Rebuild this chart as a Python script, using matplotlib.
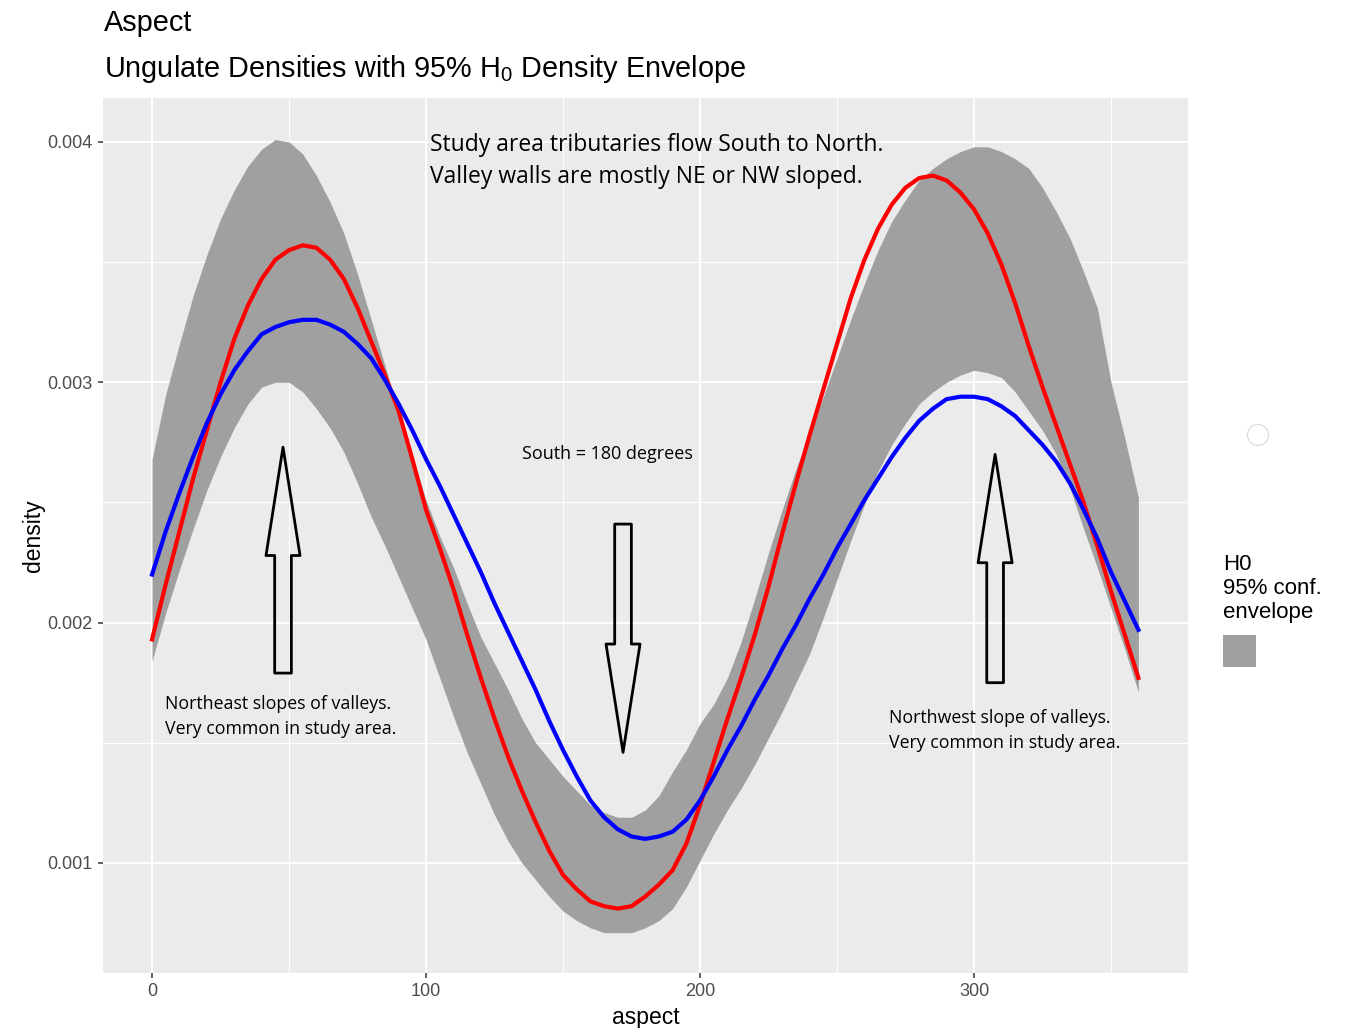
import matplotlib
matplotlib.use("Agg")
import matplotlib.pyplot as plt
from matplotlib.patches import Patch, Ellipse
import numpy as np

plt.rcParams["font.family"] = ["Liberation Sans", "DejaVu Sans"]
plt.rcParams["mathtext.fontset"] = "custom"
plt.rcParams["mathtext.rm"] = "Liberation Sans"
plt.rcParams["mathtext.it"] = "Liberation Sans:italic"

# aspect in degrees, sampled every 5 degrees
aspect = np.arange(0, 361, 5)

# H0 95% density envelope
env_upper = [0.00268, 0.00295, 0.00316, 0.00336, 0.00353, 0.00368, 0.00380, 0.00390,
             0.00397, 0.00401, 0.00400, 0.00395, 0.00386, 0.00375, 0.00362, 0.00345,
             0.00326, 0.00307, 0.00288, 0.00269, 0.00251, 0.00236, 0.00223, 0.00208,
             0.00194, 0.00183, 0.00172, 0.00160, 0.00150, 0.00143, 0.00136, 0.00130,
             0.00124, 0.00121, 0.00119, 0.00119, 0.00122, 0.00128, 0.00138, 0.00147,
             0.00158, 0.00166, 0.00177, 0.00192, 0.00210, 0.00229, 0.00247, 0.00264,
             0.00279, 0.00294, 0.00310, 0.00326, 0.00341, 0.00355, 0.00367, 0.00376,
             0.00384, 0.00389, 0.00393, 0.00396, 0.00398, 0.00398, 0.00396, 0.00393,
             0.00389, 0.00381, 0.00371, 0.00360, 0.00346, 0.00331, 0.00300, 0.00277,
             0.00252]
env_lower = [0.00184, 0.00204, 0.00222, 0.00239, 0.00255, 0.00269, 0.00281, 0.00291,
             0.00298, 0.00300, 0.00300, 0.00296, 0.00289, 0.00281, 0.00271, 0.00258,
             0.00244, 0.00232, 0.00219, 0.00206, 0.00193, 0.00177, 0.00161, 0.00146,
             0.00133, 0.00120, 0.00109, 0.00100, 0.00093, 0.00086, 0.00080, 0.00076,
             0.00073, 0.00071, 0.00071, 0.00071, 0.00073, 0.00076, 0.00081, 0.00090,
             0.00101, 0.00112, 0.00122, 0.00131, 0.00141, 0.00152, 0.00163, 0.00175,
             0.00187, 0.00202, 0.00218, 0.00234, 0.00249, 0.00263, 0.00274, 0.00283,
             0.00291, 0.00296, 0.00300, 0.00303, 0.00305, 0.00304, 0.00302, 0.00296,
             0.00288, 0.00280, 0.00270, 0.00256, 0.00239, 0.00223, 0.00206, 0.00189,
             0.00171]

# observed ungulate densities
dens_red = [0.00193, 0.00216, 0.00238, 0.00260, 0.00280, 0.00300, 0.00318, 0.00332,
            0.00343, 0.00351, 0.00355, 0.00357, 0.00356, 0.00351, 0.00343, 0.00331,
            0.00317, 0.00303, 0.00288, 0.00268, 0.00247, 0.00231, 0.00214, 0.00195,
            0.00177, 0.00160, 0.00144, 0.00130, 0.00117, 0.00105, 0.00095, 0.00089,
            0.00084, 0.00082, 0.00081, 0.00082, 0.00086, 0.00091, 0.00097, 0.00108,
            0.00124, 0.00142, 0.00160, 0.00177, 0.00195, 0.00215, 0.00237, 0.00258,
            0.00278, 0.00297, 0.00316, 0.00335, 0.00351, 0.00364, 0.00374, 0.00381,
            0.00385, 0.00386, 0.00384, 0.00379, 0.00372, 0.00362, 0.00349, 0.00333,
            0.00315, 0.00298, 0.00282, 0.00266, 0.00250, 0.00232, 0.00213, 0.00195,
            0.00177]
dens_blue = [0.00220, 0.00238, 0.00254, 0.00269, 0.00283, 0.00295, 0.00305, 0.00313,
             0.00320, 0.00323, 0.00325, 0.00326, 0.00326, 0.00324, 0.00321, 0.00316,
             0.00310, 0.00301, 0.00291, 0.00280, 0.00268, 0.00257, 0.00245, 0.00233,
             0.00221, 0.00208, 0.00196, 0.00184, 0.00172, 0.00159, 0.00147, 0.00136,
             0.00126, 0.00119, 0.00114, 0.00111, 0.00110, 0.00111, 0.00113, 0.00118,
             0.00126, 0.00136, 0.00147, 0.00157, 0.00168, 0.00178, 0.00189, 0.00199,
             0.00210, 0.00220, 0.00231, 0.00241, 0.00251, 0.00260, 0.00269, 0.00277,
             0.00284, 0.00289, 0.00293, 0.00294, 0.00294, 0.00293, 0.00290, 0.00286,
             0.00280, 0.00274, 0.00267, 0.00258, 0.00247, 0.00235, 0.00221, 0.00209,
             0.00197]

x_ticks = [0, 100, 200, 300]
y_ticks = [0.001, 0.002, 0.003, 0.004]
y_ticklabels = ["0.001", "0.002", "0.003", "0.004"]

W, H = 1349, 1028
fig = plt.figure(figsize=(W / 100, H / 100), dpi=100)
ax = fig.add_axes([103 / W, 55 / H, 1085 / W, 875 / H])

# ggplot-like panel
ax.set_facecolor("#EBEBEB")
for s in ax.spines.values():
    s.set_visible(False)
ax.set_xlim(-17.9, 378.1)
ax.set_ylim(0.000542, 0.004183)
ax.set_xticks(x_ticks)
ax.set_yticks(y_ticks)
ax.set_yticklabels(y_ticklabels)
ax.set_xticks([50, 150, 250, 350], minor=True)
ax.set_yticks([0.0015, 0.0025, 0.0035], minor=True)
ax.grid(which="major", color="white", lw=1.4)
ax.grid(which="minor", color="white", lw=0.7)
ax.set_axisbelow(True)
ax.tick_params(which="major", length=3.5, width=1.1, color="#333333",
               labelcolor="#4D4D4D", labelsize=13, pad=4)
ax.tick_params(which="minor", length=0)
ax.set_xlabel("aspect", fontsize=16.5, labelpad=4)
ax.set_ylabel("density", fontsize=16.5, labelpad=2)

ax.fill_between(aspect, env_lower, env_upper, color="#A0A0A0", lw=0)
ax.plot(aspect, dens_red, color="#FF0000", lw=3, solid_joinstyle="round")
ax.plot(aspect, dens_blue, color="#0000FF", lw=3, solid_joinstyle="round")

# notes
note_font = ["Open Sans", "DejaVu Sans"]
ax.text(101.5, 0.00392, "Study area tributaries flow South to North.\n"
        "Valley walls are mostly NE or NW sloped.",
        fontsize=16.5, family=note_font, va="center", ha="left", linespacing=1.47)
ax.text(135, 0.0027, "South = 180 degrees", fontsize=13, family=note_font,
        va="center", ha="left")
ax.text(4.7, 0.00161, "Northeast slopes of valleys.\nVery common in study area.",
        fontsize=12.8, family=note_font, va="center", ha="left", linespacing=1.5)
ax.text(269, 0.001553, "Northwest slope of valleys.\nVery common in study area.",
        fontsize=12.8, family=note_font, va="center", ha="left", linespacing=1.5)

arrow_style = "simple,head_length=7.8,head_width=2.45,tail_width=1.2"
arrows = [((47.8, 0.00179), (47.8, 0.00273)),
          ((171.9, 0.00241), (171.9, 0.00146)),
          ((307.7, 0.00175), (307.7, 0.00270))]
for tail, tip in arrows:
    ax.annotate("", xy=tip, xytext=tail,
                arrowprops=dict(arrowstyle=arrow_style, mutation_scale=10,
                                fc="none", ec="black", lw=2.0,
                                shrinkA=0, shrinkB=0))

# titles
fig.text(104 / W, 1 - 23 / H, "Aspect", fontsize=20.8, va="center", ha="left")
fig.text(104 / W, 1 - 69 / H, "Ungulate Densities with 95% H$_0$ Density Envelope",
         fontsize=20.8, va="center", ha="left")

# legend
leg = ax.legend(handles=[Patch(facecolor="#A0A0A0", edgecolor="none")], labels=[""],
                title="H0\n95% conf.\nenvelope", title_fontsize=16, fontsize=16,
                loc="upper left", bbox_to_anchor=(1223 / W, 1 - 554 / H),
                bbox_transform=fig.transFigure, frameon=False, borderpad=0,
                handlelength=1.49, handleheight=1.9, handletextpad=0,
                borderaxespad=0)
leg._legend_box.align = "left"

fig.add_artist(Ellipse((1258 / W, 1 - 435 / H), 21 / W, 21 / H,
                       transform=fig.transFigure, fill=False, ec="#D8D8D8", lw=0.8))

fig.savefig("out.png", dpi=100)
